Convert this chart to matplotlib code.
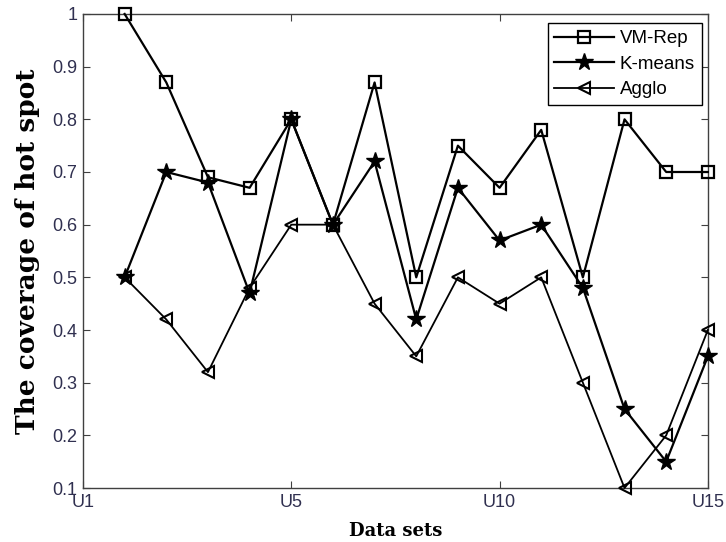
import matplotlib
matplotlib.use('Agg')
import matplotlib.pyplot as plt

datasets = list(range(1, 16))
vm_rep = [1.0, 0.87, 0.69, 0.67, 0.80, 0.60, 0.87, 0.50, 0.75, 0.67, 0.78, 0.50, 0.80, 0.70, 0.70]
kmeans = [0.50, 0.70, 0.68, 0.47, 0.80, 0.60, 0.72, 0.42, 0.67, 0.57, 0.60, 0.48, 0.25, 0.15, 0.35]
agglo = [0.50, 0.42, 0.32, 0.48, 0.60, 0.60, 0.45, 0.35, 0.50, 0.45, 0.50, 0.30, 0.10, 0.20, 0.40]

xtick_pos = [0, 5, 10, 15]
xtick_labels = ['U1', 'U5', 'U10', 'U15']
ytick_vals = [0.1, 0.2, 0.3, 0.4, 0.5, 0.6, 0.7, 0.8, 0.9, 1]
ytick_labels = ['0.1', '0.2', '0.3', '0.4', '0.5', '0.6', '0.7', '0.8', '0.9', '1']

tick_color = '#303050'

fig = plt.figure(figsize=(7.26, 5.42), dpi=100)
ax = fig.add_axes([0.1143, 0.0996, 0.8607, 0.8746])

ax.plot(datasets, vm_rep, color='black', marker='s', markersize=9,
        markerfacecolor='none', markeredgewidth=1.6, linewidth=1.6,
        label='VM-Rep', clip_on=False, zorder=3)
ax.plot(datasets, kmeans, color='black', marker='*', markersize=13,
        linewidth=1.6, label='K-means', clip_on=False, zorder=3)
ax.plot(datasets, agglo, color='black', marker='<', markersize=9,
        markerfacecolor='none', markeredgewidth=1.5, linewidth=1.3,
        label='Agglo', clip_on=False, zorder=3)

ax.set_xlim(0, 15)
ax.set_ylim(0.1, 1)
ax.set_xticks(xtick_pos)
ax.set_xticklabels(xtick_labels)
ax.set_yticks(ytick_vals)
ax.set_yticklabels(ytick_labels)

ax.tick_params(direction='in', top=True, right=True, length=5, width=0.8,
               labelsize=13, labelcolor=tick_color, color='#404040', pad=4)
for lab in ax.get_xticklabels() + ax.get_yticklabels():
    lab.set_family('Liberation Sans')
for sp in ax.spines.values():
    sp.set_color('#404040')
    sp.set_linewidth(1.0)

ax.set_xlabel('Data sets', fontsize=13, fontweight='bold', family='DejaVu Serif', labelpad=8)
ax.set_ylabel('The coverage of hot spot', fontsize=19, fontweight='bold',
              family='DejaVu Serif', labelpad=9)

leg = ax.legend(loc='upper right', bbox_to_anchor=(0.99, 0.98), frameon=True, fancybox=False,
                prop={'family': 'Liberation Sans', 'size': 13.5}, handlelength=3.2,
                borderpad=0.35, labelspacing=0.45, handletextpad=0.3, borderaxespad=0,
                framealpha=1)
leg.get_frame().set_edgecolor('black')
leg.get_frame().set_linewidth(1.0)

fig.savefig('out.png', dpi=100)
